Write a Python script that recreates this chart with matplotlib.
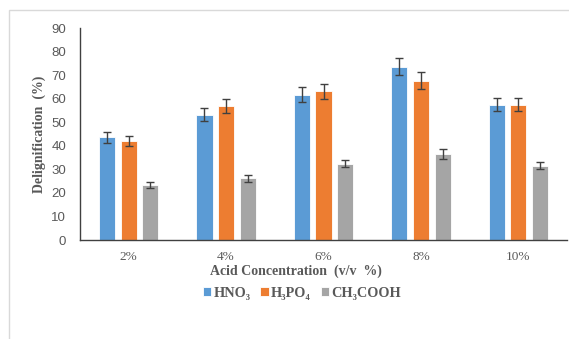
import numpy as np
import matplotlib.pyplot as plt
from matplotlib.patches import Rectangle

# Data
categories = ['2%', '4%', '6%', '8%', '10%']
series_names = ['HNO\u2083', 'H\u2083PO\u2084', 'CH\u2083COOH']
hno3 = [43.6, 53.3, 61.8, 73.7, 57.4]
h3po4 = [42.2, 56.9, 63.1, 67.6, 57.4]
ch3cooh = [23.4, 26.3, 32.5, 36.5, 31.5]
hno3_err = [2.3, 2.8, 3.1, 3.8, 2.8]
h3po4_err = [2.1, 2.9, 3.2, 3.6, 2.8]
ch3cooh_err = [1.3, 1.5, 1.6, 2.1, 1.5]

colors = ['#5B9BD5', '#ED7D31', '#A5A5A5']
serif = ['Liberation Serif', 'DejaVu Serif']
text_color = '#595959'

fig = plt.figure(figsize=(5.69, 3.39), dpi=100)
ax = fig.add_axes([0.1406, 0.292, 0.856, 0.625])

# chart area border
fig.patches.append(Rectangle((9 / 569, -0.1), 1.2, 1 - 10 / 339 + 0.1,
                             transform=fig.transFigure, fill=False,
                             edgecolor='#D9D9D9', linewidth=1.0))

x = np.arange(len(categories))
width = 0.165
offsets = [-0.222, 0.0, 0.222]
values = [hno3, h3po4, ch3cooh]
errors = [hno3_err, h3po4_err, ch3cooh_err]

for vals, errs, off, col, name in zip(values, errors, offsets, colors, series_names):
    ax.bar(x + off, vals, width, color=col, edgecolor='white', linewidth=0.6,
           label=name, yerr=errs,
           error_kw=dict(ecolor='#404040', elinewidth=1.0, capsize=3, capthick=1.0))

ax.set_xlim(-0.5, len(categories) - 0.5)
ax.set_ylim(0, 90)
ax.set_yticks(np.arange(0, 91, 10))
ax.set_xticks(x)
ax.set_xticklabels(categories, family=serif, fontsize=9.5, color=text_color)
for lbl in ax.get_yticklabels():
    lbl.set_fontsize(9.5)
    lbl.set_family('Liberation Sans')
    lbl.set_color(text_color)
ax.tick_params(axis='both', length=0)
ax.tick_params(axis='x', pad=8)
ax.tick_params(axis='y', pad=10)

for s in ['top', 'right']:
    ax.spines[s].set_visible(False)
ax.spines['left'].set_color('#404040')
ax.spines['bottom'].set_color('#404040')
ax.spines['left'].set_linewidth(1.0)
ax.spines['bottom'].set_linewidth(1.0)

fig.text(296 / 569, 1 - 271 / 339, 'Acid Concentration  (v/v  %)', ha='center',
         va='center', family=serif, fontweight='bold', fontsize=10, color=text_color)
fig.text(39 / 569, 1 - 134 / 339, 'Delignification  (%)', ha='center', va='center',
         rotation=90, family=serif, fontweight='bold', fontsize=10, color=text_color)

leg = fig.legend(loc='center', bbox_to_anchor=(302 / 569, 1 - 293 / 339), ncol=3,
                 frameon=False, handlelength=0.6, handleheight=0.6,
                 handletextpad=0.15, columnspacing=0.7,
                 prop={'family': serif, 'weight': 'bold', 'size': 10.3})
for t in leg.get_texts():
    t.set_color(text_color)

fig.savefig('out.png', dpi=100)
